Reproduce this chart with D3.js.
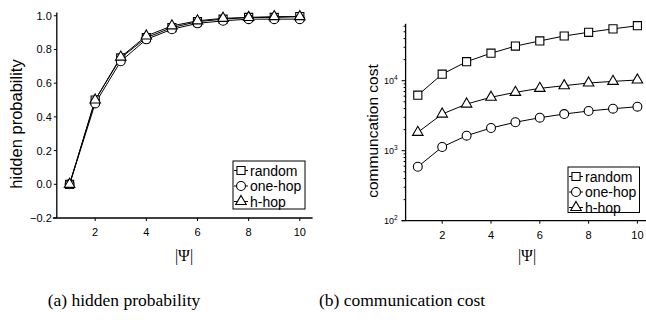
<!DOCTYPE html>
<html>
<head>
<meta charset="utf-8">
<script src="https://cdn.jsdelivr.net/npm/d3@7"></script>
<style>
  body { margin: 0; background: #fff; }
  svg { display: block; }
  text { font-family: "Liberation Sans", Arial, sans-serif; fill: #000; }
  .serif { font-family: "Liberation Serif", "Times New Roman", serif; }
</style>
</head>
<body>
<div id="chart"></div>
<script>
// x values (|Psi|)
var psi = [1, 2, 3, 4, 5, 6, 7, 8, 9, 10];

// (a) hidden probability
var hiddenRandom = [0.0, 0.50, 0.75, 0.87, 0.93, 0.965, 0.98, 0.99, 0.99, 0.995];
var hiddenOneHop = [0.0, 0.48, 0.73, 0.86, 0.92, 0.955, 0.97, 0.98, 0.98, 0.98];
var hiddenHHop   = [0.0, 0.50, 0.755, 0.88, 0.94, 0.97, 0.985, 0.99, 0.995, 0.995];

// (b) communication cost
var costRandom = [6200, 12400, 18700, 24700, 31200, 37000, 43500, 49200, 55000, 61000];
var costOneHop = [590, 1130, 1640, 2110, 2550, 2960, 3340, 3690, 3980, 4250];
var costHHop   = [1830, 3340, 4640, 5800, 6820, 7770, 8490, 9270, 9790, 10230];

var seriesNames = ["random", "one-hop", "h-hop"];
var xTicks = [2, 4, 6, 8, 10];
var yTicksA = [-0.2, 0.0, 0.2, 0.4, 0.6, 0.8, 1.0];
var yTicksB = [100, 1000, 10000];

var svg = d3.select("#chart").append("svg")
  .attr("width", 646).attr("height", 322);

var symbols = [d3.symbolSquare, d3.symbolCircle, d3.symbolTriangle];
var symSize = [66, 62, 48];

function drawPanel(opt) {
  var g = svg.append("g");
  var x = d3.scaleLinear().domain([0.5, 10.5]).range(opt.xr);
  var y = opt.y;
  var y0 = opt.y.range()[0], y1 = opt.y.range()[1];
  var ax = opt.xr[0];

  // x axis
  g.append("line").attr("x1", ax - 4).attr("x2", opt.xr[1])
    .attr("y1", y0).attr("y2", y0).attr("stroke", "#000").attr("stroke-width", 1.3);
  xTicks.forEach(function (t) {
    g.append("line").attr("x1", x(t)).attr("x2", x(t))
      .attr("y1", y0).attr("y2", y0 + 3).attr("stroke", "#000");
    g.append("text").attr("x", x(t)).attr("y", y0 + 18)
      .attr("text-anchor", "middle").style("font-size", "11px").text(t);
  });
  // y axis
  g.append("line").attr("x1", ax).attr("x2", ax)
    .attr("y1", y0).attr("y2", y1).attr("stroke", "#000").attr("stroke-width", 1.3);
  opt.yTicks(g, ax);

  // series
  opt.series.forEach(function (vals, si) {
    var pts = psi.map(function (p, i) { return [x(p), y(vals[i])]; });
    g.append("path").attr("d", d3.line()(pts))
      .attr("fill", "none").attr("stroke", "#000").attr("stroke-width", 1);
  });
  opt.series.forEach(function (vals, si) {
    g.selectAll(null).data(psi).enter().append("path")
      .attr("d", d3.symbol().type(symbols[si]).size(symSize[si]))
      .attr("transform", function (p, i) { return "translate(" + x(p) + "," + y(vals[i]) + ")"; })
      .attr("fill", "#fff").attr("stroke", "#000").attr("stroke-width", 1.1);
  });

  // legend
  var lg = g.append("g");
  var L = opt.legend;
  lg.append("rect").attr("x", L.x).attr("y", L.y).attr("width", L.w).attr("height", L.h)
    .attr("fill", "#fff").attr("stroke", "#000").attr("stroke-width", 1);
  seriesNames.forEach(function (n, i) {
    var ry = L.y + 9.5 + i * 15.5;
    lg.append("line").attr("x1", L.x + 1).attr("x2", L.x + 15).attr("y1", ry).attr("y2", ry)
      .attr("stroke", "#000");
    lg.append("path").attr("d", d3.symbol().type(symbols[i]).size(symSize[i]))
      .attr("transform", "translate(" + (L.x + 8) + "," + ry + ")")
      .attr("fill", "#fff").attr("stroke", "#000").attr("stroke-width", 1.1);
    lg.append("text").attr("x", L.x + 17).attr("y", ry + 5)
      .style("font-size", "14px").text(n);
  });

  // axis titles
  g.append("text").attr("transform", "translate(" + opt.ytx + "," + opt.yty + ") rotate(-90)")
    .attr("text-anchor", "middle").style("font-size", opt.ytFont).text(opt.ytitle);
  g.append("text").attr("class", "serif").attr("x", opt.xtx).attr("y", 261)
    .attr("text-anchor", "middle").style("font-size", "16px").text("|\u03A8|");
  g.append("text").attr("class", "serif").attr("x", opt.capx).attr("y", 306)
    .attr("text-anchor", "middle").style("font-size", "17.5px").text(opt.caption);
}

// panel (a)
var yA = d3.scaleLinear().domain([-0.2, 1.02]).range([218, 12.4]);
drawPanel({
  xr: [56.8, 312.6],
  y: yA,
  yTicks: function (g, ax) {
    yTicksA.forEach(function (t) {
      g.append("line").attr("x1", ax - 3).attr("x2", ax).attr("y1", yA(t)).attr("y2", yA(t))
        .attr("stroke", "#000");
      g.append("text").attr("x", ax - 5).attr("y", yA(t) + 4)
        .attr("text-anchor", "end").style("font-size", "11px").text(d3.format(".1f")(t));
    });
  },
  series: [hiddenRandom, hiddenOneHop, hiddenHHop],
  legend: { x: 233, y: 161, w: 72, h: 48 },
  ytitle: "hidden probability", ytx: 22, yty: 124, ytFont: "16.5px",
  xtx: 184, capx: 124, caption: "(a) hidden probability"
});

// panel (b)
var yB = d3.scaleLog().domain([100, 65000]).range([220.7, 23.8]);
drawPanel({
  xr: [405.6, 649.6],
  y: yB,
  yTicks: function (g, ax) {
    var minors = [];
    for (var d = 100; d < 65000; d *= 10) {
      for (var k = 2; k <= 9; k++) { if (d * k <= 65000) minors.push(d * k); }
    }
    minors.forEach(function (t) {
      g.append("line").attr("x1", ax - 2).attr("x2", ax).attr("y1", yB(t)).attr("y2", yB(t))
        .attr("stroke", "#000");
    });
    yTicksB.forEach(function (t) {
      g.append("line").attr("x1", ax - 4).attr("x2", ax).attr("y1", yB(t)).attr("y2", yB(t))
        .attr("stroke", "#000");
      var tx = g.append("text").attr("x", ax - 8).attr("y", yB(t) + 3)
        .attr("text-anchor", "end").style("font-size", "9px");
      tx.append("tspan").text("10");
      tx.append("tspan").attr("dy", -4).style("font-size", "6.5px").text(Math.round(Math.log10(t)));
    });
  },
  series: [costRandom, costOneHop, costHHop],
  legend: { x: 568, y: 167, w: 71.5, h: 45.5 },
  ytitle: "communcation cost", ytx: 378, yty: 131, ytFont: "15.5px",
  xtx: 527, capx: 402, caption: "(b) communication cost"
});
</script>
</body>
</html>
